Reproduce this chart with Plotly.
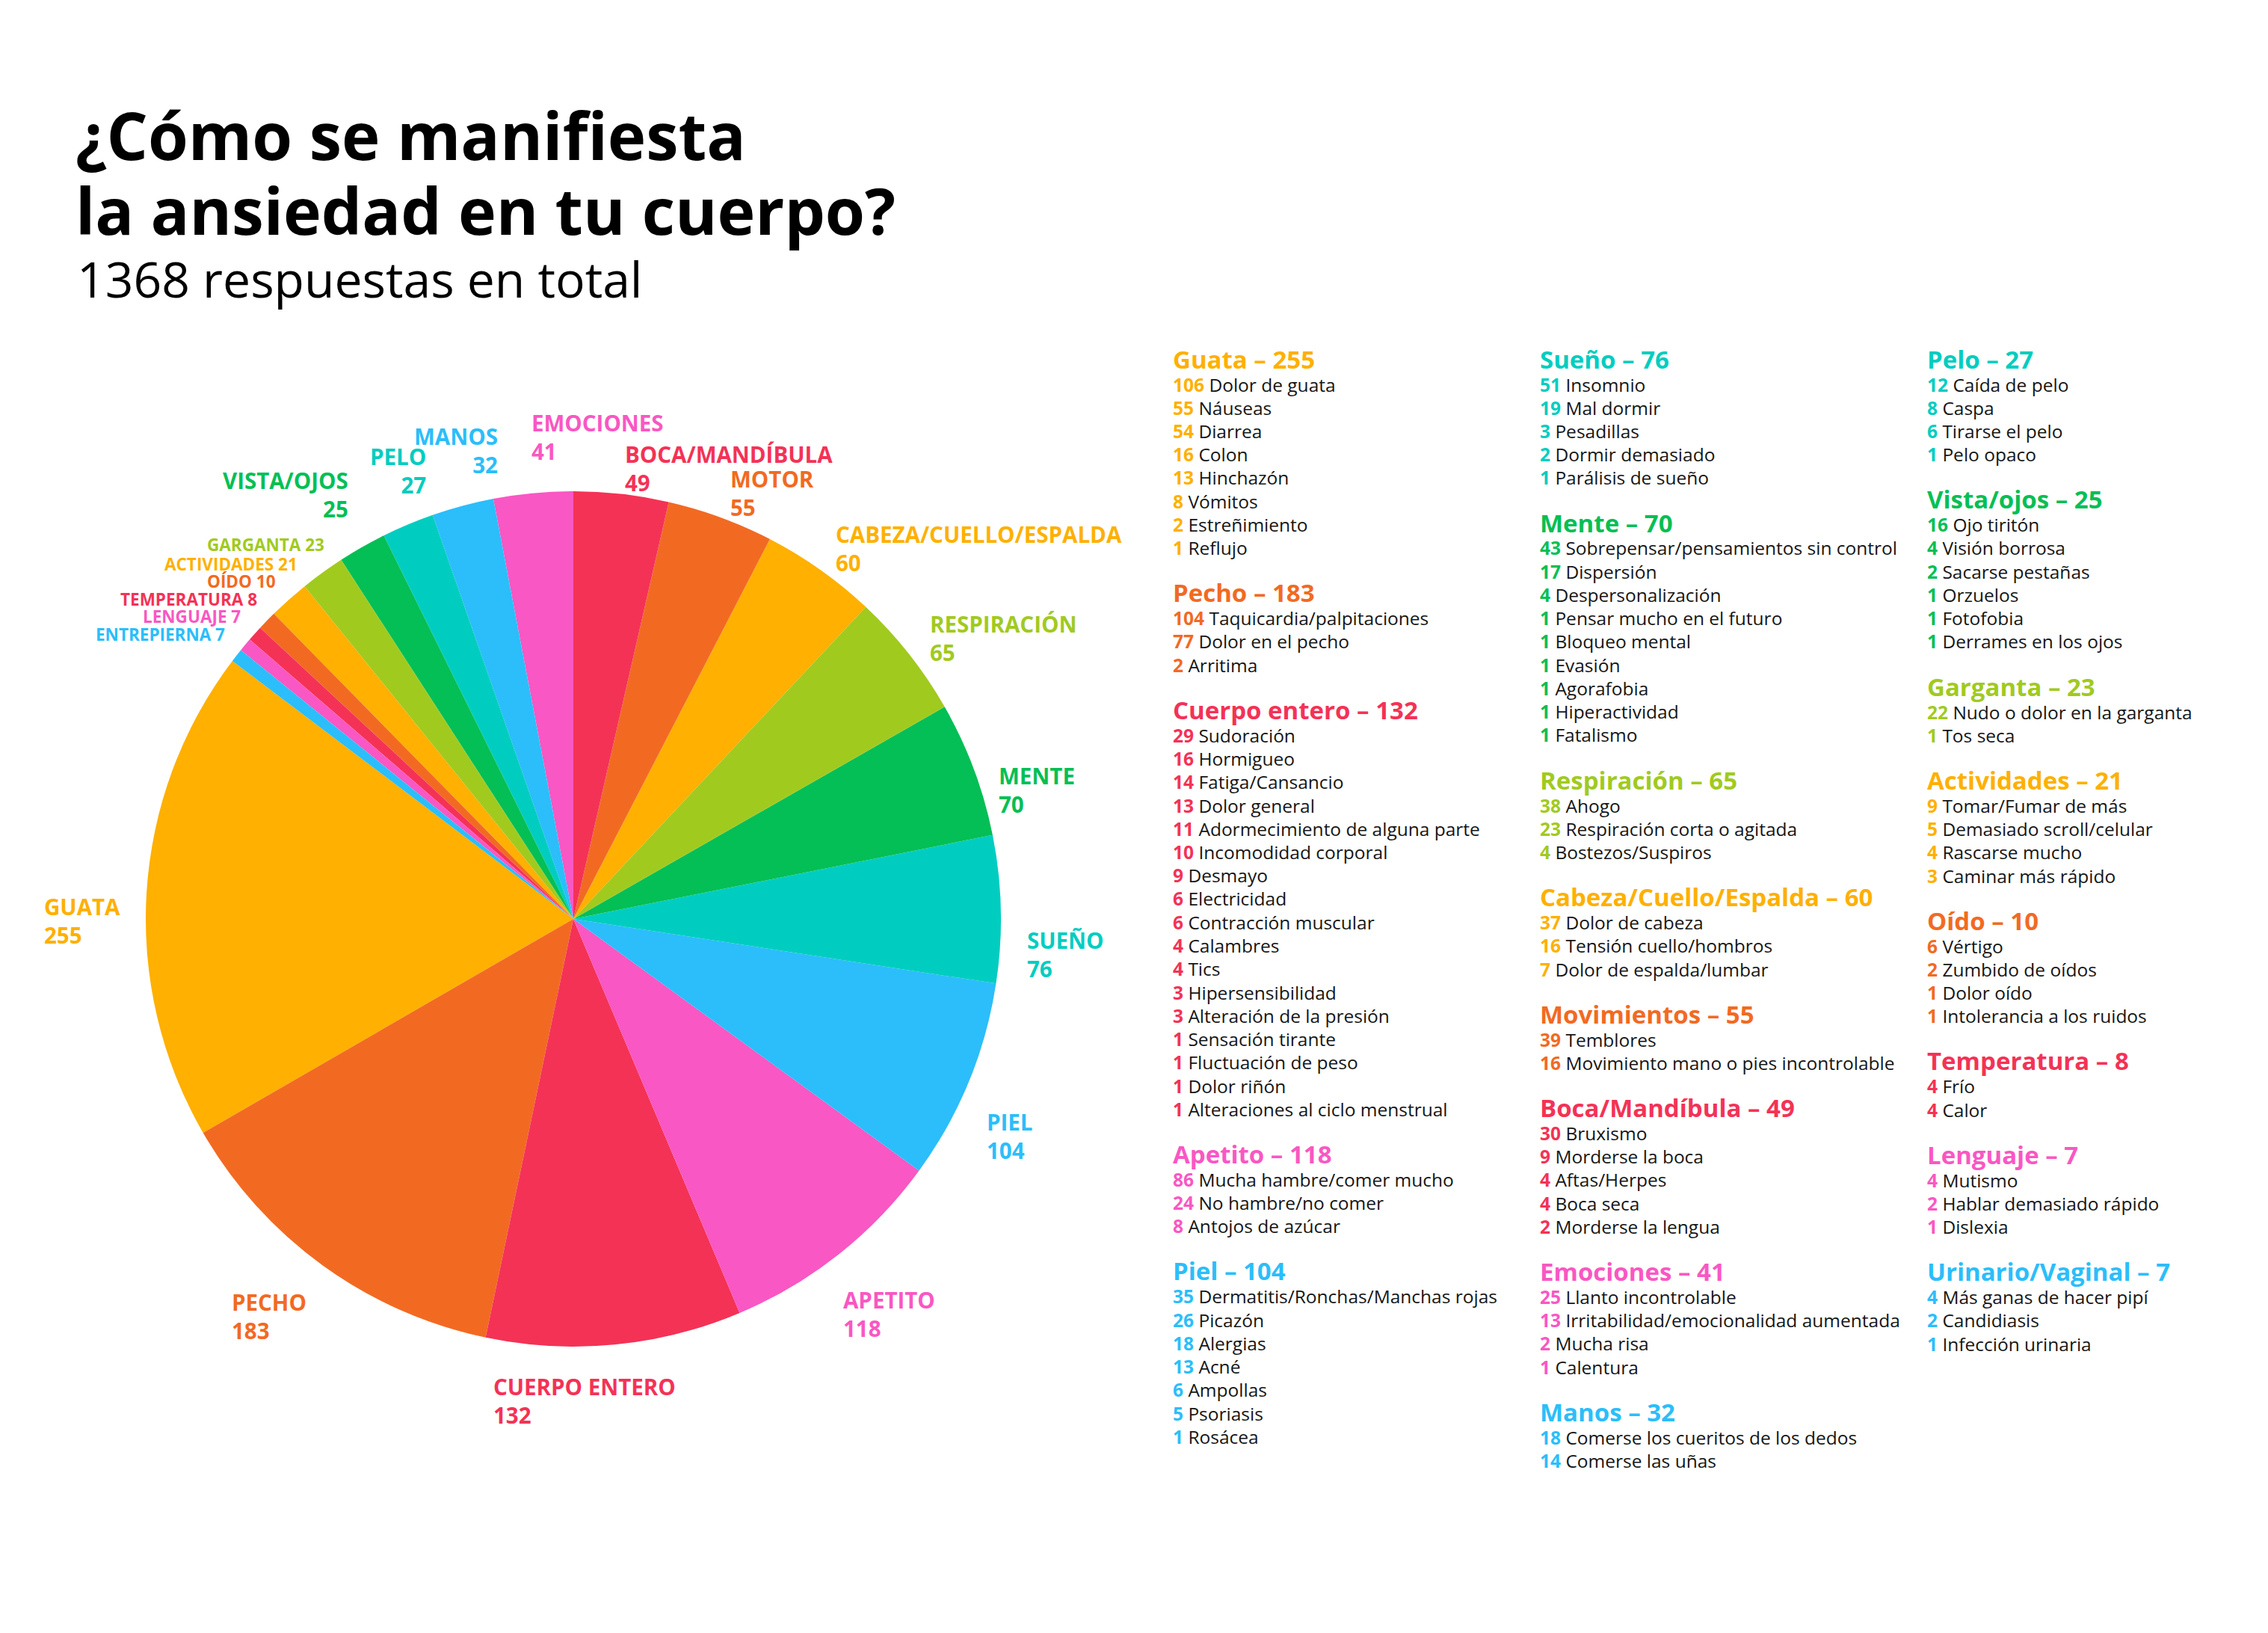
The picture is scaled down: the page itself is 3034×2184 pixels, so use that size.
import math
import plotly.graph_objects as go

# Canvas and fonts
W, H = 3034, 2184
FONT = "Open Sans"
INK = "#161616"

# Categories (pie order, biggest first)
categorias = ["Guata", "Pecho", "Cuerpo entero", "Apetito", "Piel", "Sueño", "Mente",
              "Respiración", "Cabeza/Cuello/Espalda", "Movimientos", "Boca/Mandíbula",
              "Emociones", "Manos", "Pelo", "Vista/ojos", "Garganta", "Actividades",
              "Oído", "Temperatura", "Lenguaje", "Urinario/Vaginal"]
etiquetas_pie = ["GUATA", "PECHO", "CUERPO ENTERO", "APETITO", "PIEL", "SUEÑO", "MENTE",
                 "RESPIRACIÓN", "CABEZA/CUELLO/ESPALDA", "MOTOR", "BOCA/MANDÍBULA",
                 "EMOCIONES", "MANOS", "PELO", "VISTA/OJOS", "GARGANTA", "ACTIVIDADES",
                 "OÍDO", "TEMPERATURA", "LENGUAJE", "ENTREPIERNA"]
respuestas = [255, 183, 132, 118, 104, 76, 70, 65, 60, 55, 49, 41, 32, 27, 25, 23, 21, 10, 8, 7, 7]

# Detail of each category
guata = [(106, "Dolor de guata"), (55, "Náuseas"), (54, "Diarrea"), (16, "Colon"),
         (13, "Hinchazón"), (8, "Vómitos"), (2, "Estreñimiento"), (1, "Reflujo")]
pecho = [(104, "Taquicardia/palpitaciones"), (77, "Dolor en el pecho"), (2, "Arritima")]
cuerpo = [(29, "Sudoración"), (16, "Hormigueo"), (14, "Fatiga/Cansancio"), (13, "Dolor general"),
          (11, "Adormecimiento de alguna parte"), (10, "Incomodidad corporal"), (9, "Desmayo"),
          (6, "Electricidad"), (6, "Contracción muscular"), (4, "Calambres"), (4, "Tics"),
          (3, "Hipersensibilidad"), (3, "Alteración de la presión"), (1, "Sensación tirante"),
          (1, "Fluctuación de peso"), (1, "Dolor riñón"), (1, "Alteraciones al ciclo menstrual")]
apetito = [(86, "Mucha hambre/comer mucho"), (24, "No hambre/no comer"), (8, "Antojos de azúcar")]
piel = [(35, "Dermatitis/Ronchas/Manchas rojas"), (26, "Picazón"), (18, "Alergias"), (13, "Acné"),
        (6, "Ampollas"), (5, "Psoriasis"), (1, "Rosácea")]
sueno = [(51, "Insomnio"), (19, "Mal dormir"), (3, "Pesadillas"), (2, "Dormir demasiado"),
         (1, "Parálisis de sueño")]
mente = [(43, "Sobrepensar/pensamientos sin control"), (17, "Dispersión"), (4, "Despersonalización"),
         (1, "Pensar mucho en el futuro"), (1, "Bloqueo mental"), (1, "Evasión"), (1, "Agorafobia"),
         (1, "Hiperactividad"), (1, "Fatalismo")]
respiracion = [(38, "Ahogo"), (23, "Respiración corta o agitada"), (4, "Bostezos/Suspiros")]
cabeza = [(37, "Dolor de cabeza"), (16, "Tensión cuello/hombros"), (7, "Dolor de espalda/lumbar")]
movimientos = [(39, "Temblores"), (16, "Movimiento mano o pies incontrolable")]
boca = [(30, "Bruxismo"), (9, "Morderse la boca"), (4, "Aftas/Herpes"), (4, "Boca seca"),
        (2, "Morderse la lengua")]
emociones = [(25, "Llanto incontrolable"), (13, "Irritabilidad/emocionalidad aumentada"),
             (2, "Mucha risa"), (1, "Calentura")]
manos = [(18, "Comerse los cueritos de los dedos"), (14, "Comerse las uñas")]
pelo = [(12, "Caída de pelo"), (8, "Caspa"), (6, "Tirarse el pelo"), (1, "Pelo opaco")]
vista = [(16, "Ojo tiritón"), (4, "Visión borrosa"), (2, "Sacarse pestañas"), (1, "Orzuelos"),
         (1, "Fotofobia"), (1, "Derrames en los ojos")]
garganta = [(22, "Nudo o dolor en la garganta"), (1, "Tos seca")]
actividades = [(9, "Tomar/Fumar de más"), (5, "Demasiado scroll/celular"), (4, "Rascarse mucho"),
               (3, "Caminar más rápido")]
oido = [(6, "Vértigo"), (2, "Zumbido de oídos"), (1, "Dolor oído"), (1, "Intolerancia a los ruidos")]
temperatura = [(4, "Frío"), (4, "Calor")]
lenguaje = [(4, "Mutismo"), (2, "Hablar demasiado rápido"), (1, "Dislexia")]
urinario = [(4, "Más ganas de hacer pipí"), (2, "Candidiasis"), (1, "Infección urinaria")]

detalles = [guata, pecho, cuerpo, apetito, piel, sueno, mente, respiracion, cabeza, movimientos,
            boca, emociones, manos, pelo, vista, garganta, actividades, oido, temperatura,
            lenguaje, urinario]

# Colours repeat every 8 categories
paleta = ["#FFB000", "#F26A22", "#F43256", "#F957C3", "#2BBEFA", "#00CDC0", "#04BF55", "#A1CA1F"]
colores = [paleta[i % len(paleta)] for i in range(len(respuestas))]

total = sum(respuestas)

# Pie geometry (pixels)
cx, cy, R = 759, 1221, 572
# Pecho..Boca fill the circle clockwise from 12 o'clock, Guata sits just before
# (counterclockwise pies in plotly start the first slice at `rotation`)
rot = 360 * sum(respuestas[1:11]) / total
guata_end = rot + 360 * respuestas[0] / total

fig = go.Figure()
fig.add_trace(go.Pie(
    labels=etiquetas_pie, values=respuestas, sort=False,
    direction="counterclockwise", rotation=rot,
    marker=dict(colors=colores, line=dict(width=0)),
    textinfo="none", hoverinfo="label+value", showlegend=False,
    domain=dict(x=[(cx - R) / W, (cx + R) / W], y=[1 - (cy + R) / H, 1 - (cy - R) / H]),
))

ann = []


def add_text(px, py, text, size, color, xa="left", ya="middle", align="left", bold=False):
    ann.append(dict(x=px / W, y=1 - py / H, xref="paper", yref="paper", text=text,
                    showarrow=False, xanchor=xa, yanchor=ya, align=align, borderpad=0,
                    font=dict(family=FONT, size=size, color=color,
                              weight="bold" if bold else "normal")))


# Pie labels (angles measured clockwise from 12 o'clock)
acum = 0
pequenas = []
for i, v in enumerate(respuestas):
    start = guata_end - 360 * acum / total
    mid = (start - 180 * v / total) % 360
    acum += v
    if v < 24:
        pequenas.append((i, math.radians(mid)))
        continue
    # lower-right labels sit a touch further round
    a = math.radians(mid + 2 if 80 < mid < 160 else mid)
    r = 1.06 * R
    s, c = math.sin(a), math.cos(a)
    px, py = cx + r * s, cy - r * c
    if 160 <= mid < 200:
        xa = "center"
        px = cx + 0.25 * r * s
    elif 335 <= mid < 350:
        xa = "center"
    elif 200 <= mid < 335:
        xa = "right"
    else:
        xa = "left"
    if s < 0 and c > 0.85:
        ya = "bottom"
    elif c >= 0.4:
        ya = "middle"
    else:
        ya = "top"
    align = "right" if 300 <= mid < 350 else "left"
    add_text(px, py, f"{etiquetas_pie[i]}<br>{v}", 29.5, colores[i], xa, ya, align, bold=True)

# small slices: stack labels upward so they do not collide
r_y, r_x = 1.08 * R, 1.05 * R
prev = None
for i, a in reversed(pequenas):
    py = cy - r_y * math.cos(a)
    if prev is not None:
        py = min(py, prev - 23.5)
    prev = py
    px = cx - math.sqrt(max(r_x * r_x - (py - cy) ** 2, 0))
    add_text(px, py, f"{etiquetas_pie[i]} {respuestas[i]}", 22.5, colores[i], "right", "middle", bold=True)

# Breakdown columns
col_x = [1560, 2051, 2569]
col_n = [5, 8, 8]
y_top, head_gap, line_gap, group_gap = 472, 34, 31.25, 60
k = 0
for cxol, n in zip(col_x, col_n):
    y = y_top
    for j in range(k, k + n):
        add_text(cxol, y, f"<b>{categorias[j]} – {respuestas[j]}</b>", 33, colores[j], bold=True)
        y += head_gap
        for num, txt in detalles[j]:
            add_text(cxol, y, f"<span style='color:{colores[j]}'><b>{num}</b></span> {txt}", 24.5, INK)
            y += line_gap
        y += group_gap - line_gap
    k += n

# Title
add_text(92, 172, "¿Cómo se manifiesta", 87, "#000000", bold=True)
add_text(92, 272, "la ansiedad en tu cuerpo?", 86, "#000000", bold=True)
add_text(94, 364, f"{total} respuestas en total", 66, "#000000")

fig.update_layout(
    width=W, height=H,
    margin=dict(l=0, r=0, t=0, b=0),
    paper_bgcolor="white", plot_bgcolor="white",
    annotations=ann,
    font=dict(family=FONT),
)

fig.write_html("out.html")
